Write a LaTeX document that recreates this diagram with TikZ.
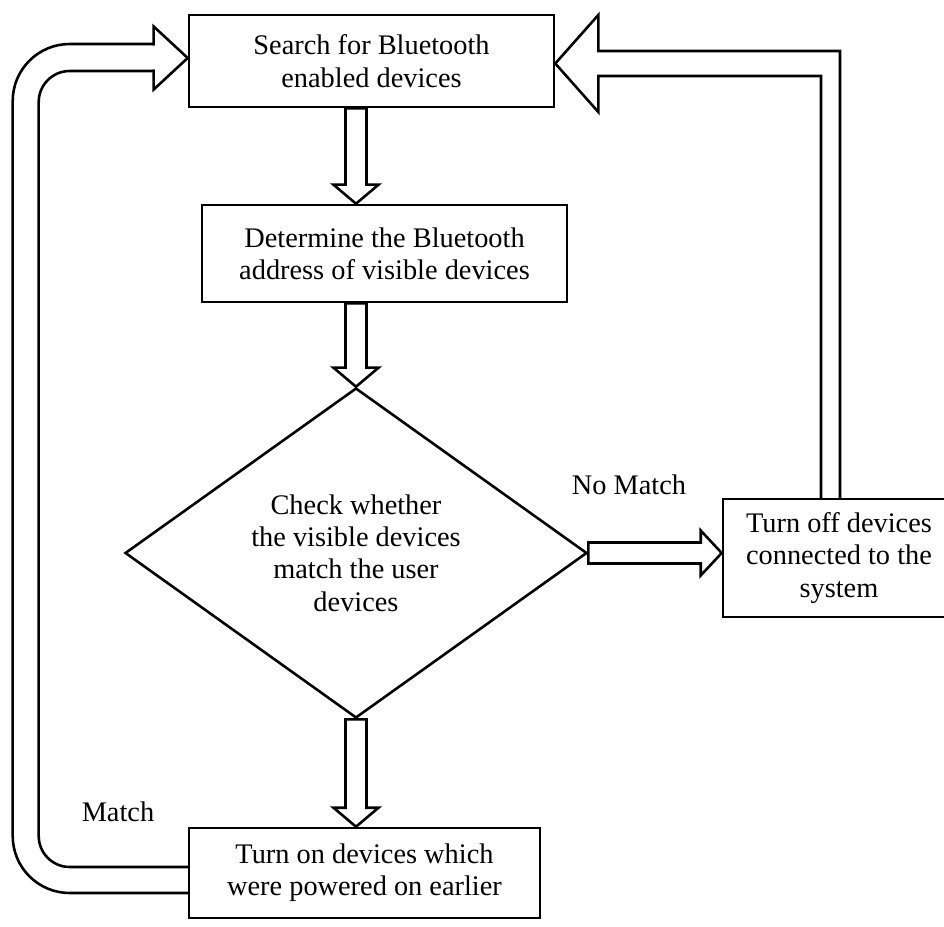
\documentclass[tikz,border=0pt]{standalone}
\usepackage{fontspec}
\setmainfont{Liberation Serif}
\usepackage{tikz}
\usetikzlibrary{shapes.geometric,calc}

% hollow block arrows: #1 start, #2 tip
\newcommand{\hollowdown}[2]{%
  \draw[hollow] ($(#1)+(-10.5,0)$) -- ($(#2)+(-10.5,-19)$) -- ($(#2)+(-22.5,-19)$) -- (#2)
    -- ($(#2)+(22.5,-19)$) -- ($(#2)+(10.5,-19)$) -- ($(#1)+(10.5,0)$) -- cycle;}
\newcommand{\hollowright}[2]{%
  \draw[hollow] ($(#1)+(0,-10.5)$) -- ($(#2)+(-21,-10.5)$) -- ($(#2)+(-21,-22.5)$) -- (#2)
    -- ($(#2)+(-21,22.5)$) -- ($(#2)+(-21,10.5)$) -- ($(#1)+(0,10.5)$) -- cycle;}

\begin{document}
\begin{tikzpicture}[
    x=0.015cm, y=-0.015cm,
    font=\fontsize{12.1}{13.8}\selectfont,
    box/.style={rectangle, draw, line width=1.1pt, align=center, inner sep=2pt},
    decision/.style={diamond, draw, line width=1.1pt, align=center, inner sep=0pt, aspect=1.4},
    hollow/.style={draw, line width=1.1pt, line cap=rect}
]
    \path[use as bounding box, clip] (0,0) rectangle (944,927);

    % Steps
    \node[box, minimum width=5.475cm, minimum height=1.38cm] (search) at (371.5,61) {Search for Bluetooth\\enabled devices};
    \node[box, minimum width=5.475cm, minimum height=1.455cm] (determine) at (384.5,253.5) {Determine the Bluetooth\\address of visible devices};
    \node[decision, minimum width=6.93cm, minimum height=4.95cm] (check) at (356,553) {Check whether\\the visible devices\\match the user\\devices};
    \node[box, minimum width=3.48cm, minimum height=1.77cm] (turnoff) at (839,558) {Turn off devices\\connected to the\\system};
    \node[box, minimum width=5.265cm, minimum height=1.35cm] (turnon) at (364.5,873) {Turn on devices which\\were powered on earlier};

    % Labels
    \node (match) at (118,812) {Match};
    \node (nomatch) at (629,485) {No Match};

    % Main flow
    \coordinate (a1s) at (check.north |- search.south);
    \coordinate (a1t) at (check.north |- determine.north);
    \coordinate (a2s) at (check.north |- determine.south);
    \coordinate (a3t) at (check.south |- turnon.north);
    \coordinate (a4t) at (check.east -| turnoff.west);
    \hollowdown{a1s}{a1t}
    \hollowdown{a2s}{check.north}
    \hollowdown{check.south}{a3t}
    \hollowright{check.east}{a4t}

    % No Match: back to search
    \coordinate (backtop) at (830.5,63.5);
    \coordinate (backfoot) at (backtop |- turnoff.north);
    \coordinate (backtip) at (search.east |- backtop);
    \draw[hollow] ($(backfoot)+(-9.5,0)$) -- ($(backtop)+(-9.5,12.5)$) -- ($(backtip)+(43,12.5)$)
        -- ($(backtip)+(43,48.5)$) -- (backtip) -- ($(backtip)+(43,-48.5)$)
        -- ($(backtip)+(43,-12.5)$) -- ($(backtop)+(9.5,-12.5)$) -- ($(backfoot)+(9.5,0)$);

    % Match: loop back to search
    \coordinate (looptip) at ($(search.west)+(0,-3)$);
    \coordinate (loopfoot) at ($(turnon.west)+(0,7)$);
    \draw[hollow, rounded corners=0.855cm] ($(loopfoot)+(0,13)$) -| ($(looptip)+(-175,-14)$) -- ($(looptip)+(-34,-14)$);
    \draw[hollow, rounded corners=0.465cm] ($(loopfoot)+(0,-13)$) -| ($(looptip)+(-149,13)$) -- ($(looptip)+(-34,13)$);
    \draw[hollow] ($(looptip)+(-34,-14)$) -- ($(looptip)+(-34,-31.5)$) -- (looptip)
        -- ($(looptip)+(-34,31.5)$) -- ($(looptip)+(-34,13)$);
\end{tikzpicture}
\end{document}
